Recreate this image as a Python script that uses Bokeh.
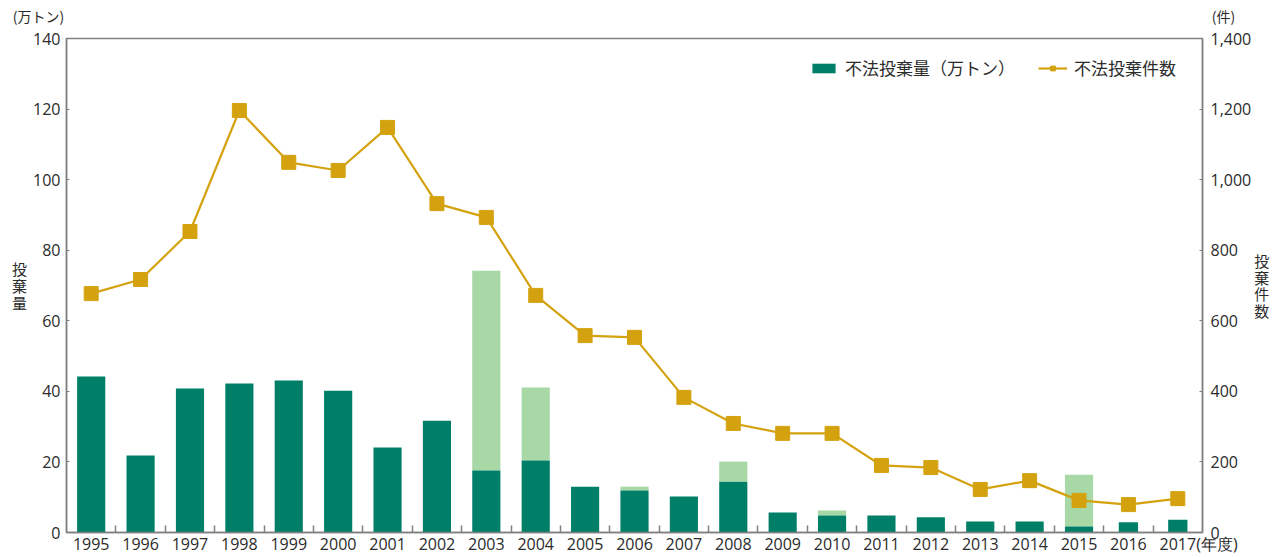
from bokeh.plotting import figure
from bokeh.models import (Range1d, LinearAxis, FixedTicker, NumeralTickFormatter,
                          Legend, LegendItem, ColumnDataSource)
from bokeh.embed import file_html
from bokeh.resources import INLINE

# ---- data ----
years = ["1995", "1996", "1997", "1998", "1999", "2000", "2001", "2002", "2003",
         "2004", "2005", "2006", "2007", "2008", "2009", "2010", "2011", "2012",
         "2013", "2014", "2015", "2016", "2017"]
year_unit = "(年度)"
# 不法投棄量 (万トン): regular part (dark) and total incl. special cases (light)
amount_base = [44.2, 21.8, 40.8, 42.2, 43.1, 40.2, 24.1, 31.7, 17.6,
               20.4, 13.0, 11.9, 10.2, 14.4, 5.7, 4.8, 4.8, 4.3,
               3.1, 3.1, 1.7, 2.9, 3.6]
amount_total = [44.2, 21.8, 40.8, 42.2, 43.1, 40.2, 24.1, 31.7, 74.2,
                41.1, 13.0, 13.0, 10.2, 20.1, 5.7, 6.2, 4.8, 4.3,
                3.1, 3.1, 16.4, 2.9, 3.6]
# 不法投棄件数
counts = [677, 717, 853, 1196, 1049, 1026, 1148, 932, 893,
          672, 558, 553, 383, 309, 281, 281, 190, 184,
          122, 147, 91, 79, 96]

left_ticks = [0, 20, 40, 60, 80, 100, 120, 140]
right_ticks = [0, 200, 400, 600, 800, 1000, 1200, 1400]
left_unit = "(万トン)"
right_unit = "(件)"
left_title = "投\n棄\n量"
right_title = "投\n棄\n件\n数"
legend_amount = "不法投棄量（万トン）"
legend_count = "不法投棄件数"

# ---- styles ----
DARK = "#007F68"
LIGHT = "#A8D8A6"
GOLD = "#D4A20F"
AXIS = "#808080"
TXT = "#2b2b2b"
NUM_FONT = "Open Sans"
JP_FONT = "Noto Sans CJK JP"
SP = "\u3000"    # ideographic space (pads the unit captions)
NB = "\u00a0"    # no-break space (keeps the last year centred on its bar)

n = len(years)
idx = list(range(n))
bar_w = [0.57] * n
bar_w[-2] = 0.39
bar_w[-1] = 0.39

src = ColumnDataSource(dict(x=idx, base=amount_base, total=amount_total,
                            cnt=counts, w=bar_w))

p = figure(width=1272, height=557, x_range=Range1d(-0.5, n - 0.5),
           y_range=Range1d(0, 140), output_backend="svg", toolbar_location=None,
           x_axis_location=None,
           min_border_left=66, min_border_right=70, min_border_top=38,
           min_border_bottom=25)
p.extra_x_ranges = {"unit": Range1d(0, 1)}
p.extra_y_ranges = {"cnt": Range1d(0, 1400)}
p.grid.visible = False
p.outline_line_color = AXIS
p.outline_line_width = 1.5
p.background_fill_color = "white"
p.border_fill_color = "white"

# bars
light = p.vbar(x="x", bottom="base", top="total", width="w", source=src,
               fill_color=LIGHT, line_color=None)
dark = p.vbar(x="x", bottom=0, top="base", width="w", source=src,
              fill_color=DARK, line_color=None)

# line + squares
ln = p.line(x="x", y="cnt", source=src, y_range_name="cnt",
            line_color=GOLD, line_width=2.2)
sq = p.scatter(x="x", y="cnt", source=src, y_range_name="cnt", marker="square",
               size=14, fill_color=GOLD, line_color=GOLD)

# bottom (category) axis
labels = {i: years[i] for i in idx}
labels[n - 1] = NB * 10 + years[-1] + year_unit
xa = LinearAxis(ticker=FixedTicker(ticks=idx,
                                   minor_ticks=[i + 0.5 for i in idx[:-1]]),
                major_label_overrides=labels)
xa.major_tick_in = 0
xa.major_tick_out = 0
xa.minor_tick_in = 7
xa.minor_tick_out = 0
xa.minor_tick_line_color = AXIS
xa.minor_tick_line_width = 1.5
xa.axis_line_color = AXIS
xa.axis_line_width = 1.5
xa.major_label_standoff = 0
xa.major_label_text_font = NUM_FONT
xa.major_label_text_font_size = "16px"
xa.major_label_text_color = TXT
p.add_layout(xa, "below")

# top captions (units)
ua = LinearAxis(x_range_name="unit", ticker=FixedTicker(ticks=[0, 1]),
                major_label_overrides={0: left_unit + SP * 4,
                                       1: SP * 3 + right_unit})
ua.axis_line_color = None
ua.major_tick_line_color = None
ua.minor_tick_line_color = None
ua.major_label_standoff = 7
ua.major_label_text_font = JP_FONT
ua.major_label_text_font_size = "14px"
ua.major_label_text_color = TXT
p.add_layout(ua, "above")

# left axis
ya = p.yaxis[0]
ya.ticker = FixedTicker(ticks=left_ticks)
ya.major_tick_in = 3
ya.major_tick_out = 0
ya.minor_tick_in = 0
ya.minor_tick_out = 0
ya.major_tick_line_color = AXIS
ya.axis_line_color = AXIS
ya.axis_line_width = 1.5
ya.major_label_standoff = 6
ya.major_label_text_font = NUM_FONT
ya.major_label_text_font_size = "16px"
ya.major_label_text_color = TXT
ya.axis_label = left_title
ya.axis_label_orientation = "horizontal"
ya.axis_label_standoff = 3
ya.axis_label_text_font = JP_FONT
ya.axis_label_text_font_size = "15px"
ya.axis_label_text_font_style = "normal"
ya.axis_label_text_color = TXT
ya.axis_label_text_line_height = 0.8

# right axis
ra = LinearAxis(y_range_name="cnt", ticker=FixedTicker(ticks=right_ticks),
                formatter=NumeralTickFormatter(format="0,0"))
ra.major_tick_in = 3
ra.major_tick_out = 0
ra.minor_tick_in = 0
ra.minor_tick_out = 0
ra.major_tick_line_color = AXIS
ra.axis_line_color = AXIS
ra.axis_line_width = 1.5
ra.major_label_standoff = 8
ra.major_label_text_font = NUM_FONT
ra.major_label_text_font_size = "16px"
ra.major_label_text_color = TXT
ra.axis_label = right_title
ra.axis_label_orientation = "horizontal"
ra.axis_label_standoff = 0
ra.axis_label_text_font = JP_FONT
ra.axis_label_text_font_size = "15px"
ra.axis_label_text_font_style = "normal"
ra.axis_label_text_color = TXT
ra.axis_label_text_line_height = 0.8
p.add_layout(ra, "right")

# legend (bottom-left corner given in pixels from the frame's bottom-left)
legend = Legend(items=[LegendItem(label=legend_amount, renderers=[dark]),
                       LegendItem(label=legend_count, renderers=[ln, sq])],
                orientation="horizontal", location=(743, 452), margin=0,
                padding=0, spacing=23, label_standoff=7, glyph_width=29,
                glyph_height=12, border_line_color=None,
                background_fill_alpha=0, label_text_font=JP_FONT,
                label_text_font_size="17px", label_text_color=TXT)
p.add_layout(legend, "center")

open("out.html", "w").write(file_html(p, INLINE))
